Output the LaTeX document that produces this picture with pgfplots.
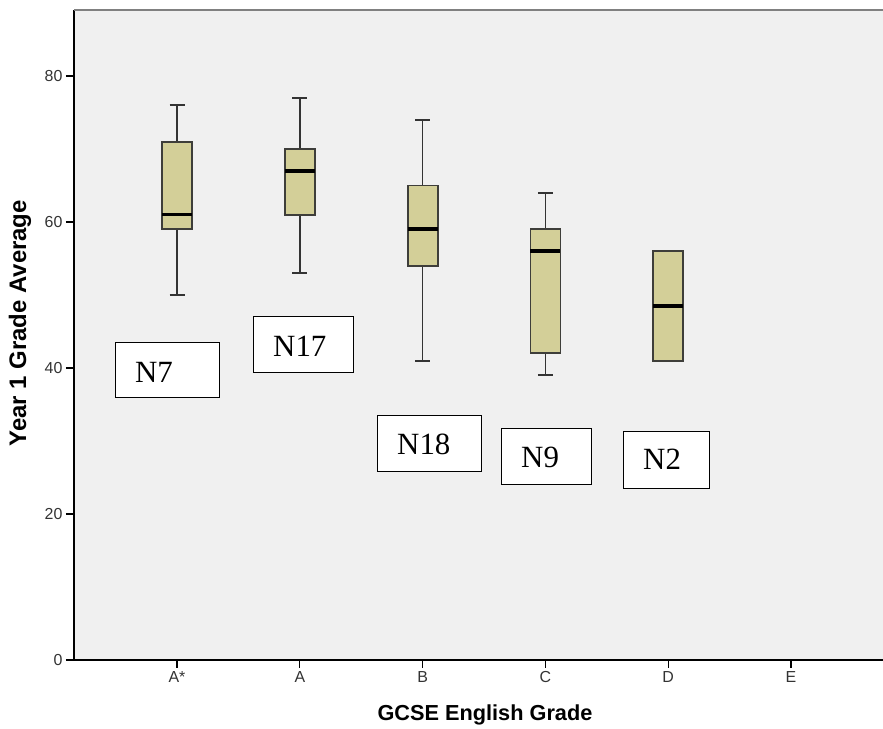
\documentclass[border=0pt]{standalone}
\usepackage{pgfplots}
\pgfplotsset{compat=1.18}
\usepgfplotslibrary{statistics}
\usepackage{fontspec}
\setmainfont{Liberation Serif}
\newfontfamily\arial{Liberation Sans}
\definecolor{bg}{HTML}{F0F0F0}
\definecolor{boxfill}{HTML}{D3CF98}
\definecolor{boxedge}{HTML}{3E3E3A}
\definecolor{whisk}{HTML}{333333}
\definecolor{ticktext}{HTML}{333333}
\begin{document}
\begin{tikzpicture}[x=1bp,y=1bp]
\useasboundingbox (0,0) rectangle (883,729);
\begin{axis}[
  at={(74bp,69bp)}, anchor=south west,
  scale only axis, width=809bp, height=650bp,
  xmin=-0.839, xmax=5.749, ymin=0, ymax=89.04,
  axis background/.style={fill=bg},
  axis x line*=bottom, axis y line*=left,
  axis line style={black, line width=1.3bp},
  xtick={0,1,2,3,4,5}, xticklabels={A*,A,B,C,D,E},
  ytick={0,20,40,60,80},
  tick align=outside, major tick length=8bp,
  tick style={black, line width=1.1bp},
  /pgf/number format/assume math mode=true,
  ticklabel style={font=\arial\fontsize{16}{16}\selectfont, text=ticktext},
  xlabel={GCSE English Grade}, ylabel={Year 1 Grade Average},
  xlabel style={font=\arial\bfseries\fontsize{21.8}{21.8}\selectfont, at={(axis description cs:0.508,-0.0846)}, anchor=center},
  ylabel style={font=\arial\bfseries\fontsize{24}{24}\selectfont, at={(axis description cs:-0.0667,0.518)}, anchor=center},
  boxplot/draw direction=y,
  boxplot/box extend=0.244,
  boxplot/whisker extend=0.122,
  boxplot/every box/.style={fill=boxfill, draw=boxedge, line width=1.8bp},
  boxplot/every whisker/.style={draw=whisk, line width=1.7bp},
  boxplot/every median/.style={draw=black, line width=3.6bp},
]
\draw[draw=gray, line width=2bp] (rel axis cs:0,1) -- (rel axis cs:1,1);
\addplot[boxplot prepared={draw position=0, lower whisker=50, lower quartile=59, median=61, upper quartile=71, upper whisker=76}] coordinates {};
\addplot[boxplot prepared={draw position=1, lower whisker=53, lower quartile=61, median=67, upper quartile=70, upper whisker=77}] coordinates {};
\addplot[boxplot prepared={draw position=2, lower whisker=41, lower quartile=54, median=59, upper quartile=65, upper whisker=74}] coordinates {};
\addplot[boxplot prepared={draw position=3, lower whisker=39, lower quartile=42, median=56, upper quartile=59, upper whisker=64}] coordinates {};
\addplot[boxplot prepared={draw position=4, lower whisker=41, lower quartile=41, median=48.5, upper quartile=56, upper whisker=56}] coordinates {};
\end{axis}
\tikzset{nbox/.style={draw=black, fill=white, line width=1bp}, ntext/.style={anchor=base west, inner sep=0pt, font=\fontsize{31}{31}\selectfont}}
\draw[nbox] (115,331) rectangle (219,386);
\node[ntext] at (135,346) {N7};
\draw[nbox] (253,356) rectangle (353,412);
\node[ntext] at (273,372) {N17};
\draw[nbox] (377,257) rectangle (481,313);
\node[ntext] at (397,274) {N18};
\draw[nbox] (501,244) rectangle (591,300);
\node[ntext] at (521,261) {N9};
\draw[nbox] (623,240) rectangle (709,297);
\node[ntext] at (643,259) {N2};
\end{tikzpicture}
\end{document}
